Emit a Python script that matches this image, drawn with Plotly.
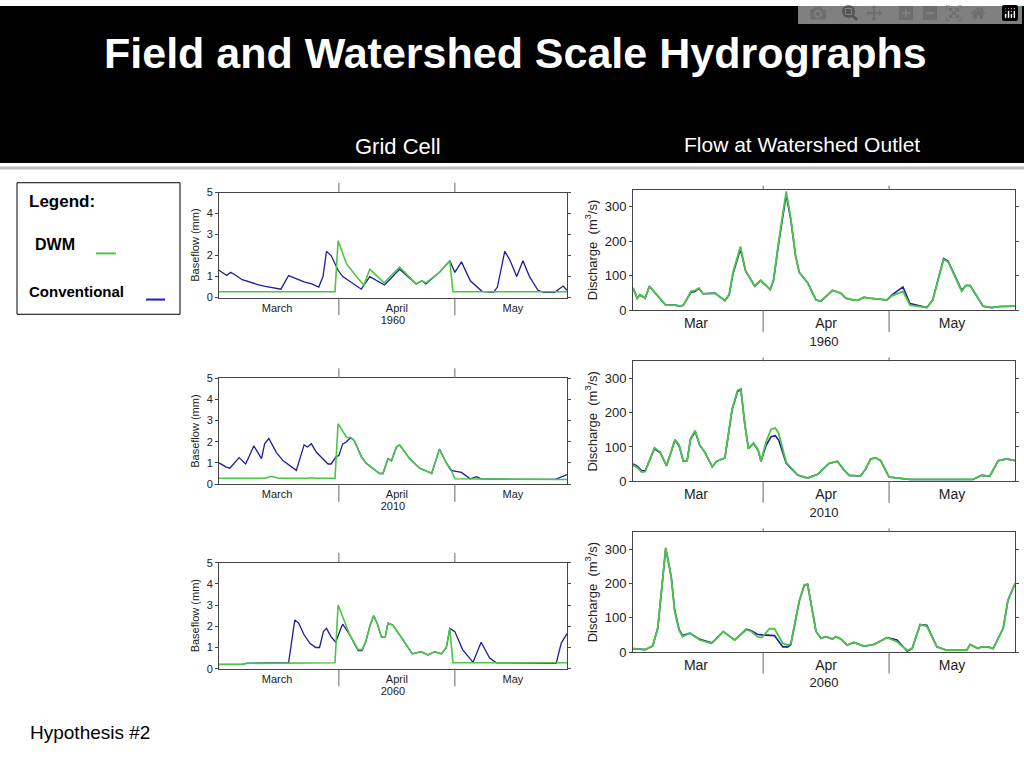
import plotly.graph_objects as go

# Days since March 1
# ---- Grid cell baseflow (mm) ----
bf1960_conv_d = [0,2,3,4,6,8,10,12,14,16,18,20,22,24,25.8,26.9,27.8,29,30.8,32,36.8,39,42.8,46.7,51,52.5,53.5,57,59.7,61,62.7,65,68,71,72,73.9,75.2,77,78.6,80.3,82.5,84,86.8,89,90]
bf1960_conv_v = [1.3,1.05,1.2,1.1,0.85,0.72,0.62,0.53,0.45,0.4,1.05,0.9,0.75,0.65,0.5,1.0,2.2,2.0,1.3,1.0,0.4,1.0,0.6,1.35,0.65,0.8,0.65,1.2,1.75,1.2,1.7,0.8,0.3,0.25,0.5,2.2,1.8,1.0,1.75,1.0,0.35,0.25,0.25,0.55,0.35]
bf1960_dwm_d = [0,29,30,30.8,33,36,37.5,39,42.7,46.7,51,52.5,53.5,57,59.7,60.5,90]
bf1960_dwm_v = [0.28,0.3,0.28,2.7,1.6,0.9,0.6,1.35,0.7,1.45,0.65,0.8,0.7,1.2,1.75,0.28,0.28]

bf2010_conv_d = [0,1.9,2.8,5.2,6.9,9,11,11.8,12.9,14.8,16.6,20,22,22.9,23.9,25.2,28.2,29,30.3,31,32,33,34,35,36.8,38,41.5,42.4,43.7,44.6,45.9,46.7,49.3,51.9,54.5,55,57,58.8,60,62.7,65,66.6,67.8,76,87,90]
bf2010_conv_v = [1.0,0.8,0.75,1.25,0.95,1.8,1.2,1.9,2.15,1.5,1.1,0.65,1.85,1.75,1.9,1.5,0.95,0.95,1.3,1.35,1.9,2.0,2.2,2.05,1.3,1.0,0.5,0.5,1.2,1.1,1.75,1.85,1.2,0.75,0.55,0.5,1.65,1.0,0.65,0.55,0.25,0.35,0.25,0.22,0.22,0.45]
bf2010_dwm_d = [0,12,13.5,15.5,23,24,25,30,30.8,33,34,35,36.8,38,41.5,42.4,43.7,44.6,45.9,46.7,49.3,51.9,54.5,55,57,58.8,60,61,90]
bf2010_dwm_v = [0.28,0.28,0.37,0.28,0.28,0.3,0.28,0.28,2.85,2.2,2.2,2.05,1.3,1.0,0.5,0.5,1.2,1.1,1.75,1.85,1.2,0.75,0.55,0.5,1.65,1.0,0.7,0.25,0.22]

bf2060_conv_d = [0,6,7,18,19.6,20.6,22,23.5,25,26,27,27.8,29,30.2,31.5,32,33.8,36,37,38,39,40,41,42,43,43.7,45,46.7,50,52.3,54,55.8,57.5,58.8,59.7,61,63,65.7,67.8,70,71.7,87.2,88.5,90]
bf2060_conv_v = [0.2,0.2,0.25,0.28,2.3,2.15,1.6,1.2,1.0,1.0,1.75,1.9,1.5,1.25,1.9,2.1,1.6,0.85,0.85,1.3,2.0,2.5,2.1,1.5,1.5,2.15,2.05,1.6,0.7,0.8,0.65,0.8,0.7,1.0,1.9,1.75,0.9,0.3,1.25,0.5,0.28,0.25,1.2,1.65]
bf2060_dwm_d = [0,6,7,30,30.8,33.8,36,37,38,39,40,41,42,43,43.7,45,46.7,50,52.3,54,55.8,57.5,58.8,59.7,60.5,90]
bf2060_dwm_v = [0.2,0.2,0.25,0.28,3.0,1.6,0.9,0.9,1.3,2.0,2.5,2.1,1.5,1.5,2.15,2.05,1.6,0.7,0.8,0.65,0.8,0.7,1.0,1.9,0.28,0.28]

# ---- Watershed outlet discharge (m3/s) ----
q1960_d = [0,1,1.7,2.9,3.9,5.3,7.8,10,11.2,12,13.8,14.8,15.7,16.7,19.5,21.9,22.9,23.8,25.6,26.8,29,30.4,32.7,33.5,34.7,36.5,37.6,38.7,39.6,41.6,43.6,44.8,47.5,49.5,50.7,52.6,53.8,55,56.6,60.5,61.7,64.3,66,70,71.4,74,75.1,78.3,79.3,80.3,83.4,85.4,87.4,91]
q1960_dwm = [65,35,45,35,70,50,15,15,12,15,55,58,65,48,50,28,45,110,185,115,70,88,60,90,200,345,265,160,110,80,30,27,58,50,35,30,30,38,35,30,42,55,15,8,30,148,140,55,72,72,12,8,11,12]
q1960_conv = [65,35,45,35,70,50,15,15,12,15,52,55,63,48,50,28,45,105,178,115,70,86,60,88,195,335,262,160,110,80,30,27,58,50,35,30,30,38,35,30,45,68,20,8,30,150,142,58,72,72,12,8,11,12]

q2010_d = [0,1,2.1,2.9,5.1,6.5,8,10,11,12,12.9,13.7,14.8,15.9,17.1,18.9,19.9,21.9,23.6,24.9,25.7,26.6,27.5,28.7,29.8,30.5,31.7,32.9,33.9,34.7,36.5,39.2,41.6,44,46.7,48.7,50.3,51.5,54.2,55.4,56.6,57.8,59,61,66,81,83,85,87,88.2,89,91]
q2010_dwm = [47,40,27,28,98,85,45,122,105,58,60,125,148,105,85,42,58,68,210,265,270,170,95,112,92,58,115,152,155,140,55,18,9,20,52,58,32,17,15,35,65,68,60,12,5,5,17,15,60,62,65,60]
q2010_conv = [50,44,30,30,95,83,45,120,103,58,60,122,145,105,85,42,58,68,208,262,268,170,95,110,90,58,105,130,133,120,52,18,9,20,52,58,32,17,15,35,65,68,60,12,5,5,17,15,60,62,65,60]

q2060_d = [0,2.9,4.7,5.9,7.8,9.1,9.9,11,11.8,13.6,15.9,18.7,19.5,21.5,24.2,27,28.2,29.6,30.7,32.5,33.7,35.7,36.9,37.6,39.6,40.8,41.6,43.6,44.8,45.9,47.5,48.3,49.5,51,52.6,55,57.4,60.5,62.9,65.3,66.5,68.4,70,72.4,74.7,79.5,80.3,82.2,83,84.6,85.8,88.2,89.3,91]
q2060_dwm = [10,7,18,70,305,220,120,62,45,55,35,25,35,60,35,65,60,45,42,68,68,25,20,25,150,197,197,60,40,45,38,45,38,20,28,17,22,42,30,5,10,80,75,15,5,5,22,10,15,15,10,70,150,200]
q2060_conv = [10,7,18,70,303,220,125,65,48,55,37,27,35,60,35,67,62,52,50,50,48,15,15,22,148,195,198,60,40,45,38,45,38,20,28,17,22,42,35,3,10,80,78,15,5,5,22,10,15,15,10,70,150,200]

years = ["1960", "2010", "2060"]
BLUE = "#1c1c9e"
GREEN = "#4cc444"
FONT = "Liberation Sans, Arial, sans-serif"

W, H = 1024, 768
def px(x): return x / W
def py(y): return 1 - y / H

fig = go.Figure()

left = [(bf1960_conv_d, bf1960_conv_v, bf1960_dwm_d, bf1960_dwm_v),
        (bf2010_conv_d, bf2010_conv_v, bf2010_dwm_d, bf2010_dwm_v),
        (bf2060_conv_d, bf2060_conv_v, bf2060_dwm_d, bf2060_dwm_v)]
right = [(q1960_d, q1960_conv, q1960_dwm), (q2010_d, q2010_conv, q2010_dwm), (q2060_d, q2060_conv, q2060_dwm)]
left_rows = [(190, 297), (379, 487), (567, 675)]
right_rows = [(187, 310), (362, 484), (536, 658)]

shapes = []
annotations = []
axn = 1
for i in range(3):
    xa, ya = f"x{axn}", f"y{axn}"
    cd, cv, dd, dv = left[i]
    fig.add_trace(go.Scatter(x=cd, y=cv, mode="lines", line=dict(color=BLUE, width=1.3), xaxis=xa, yaxis=ya, showlegend=False))
    fig.add_trace(go.Scatter(x=dd, y=dv, mode="lines", line=dict(color=GREEN, width=1.6), xaxis=xa, yaxis=ya, showlegend=False))
    t, b = left_rows[i]
    fig.layout[f"xaxis{axn}" if axn > 1 else "xaxis"] = dict(
        domain=[px(219), px(567)], anchor=ya, range=[0, 90], tickvals=[15, 46, 76],
        ticktext=["March", "April", "May"], ticks="", showgrid=False, zeroline=False,
        showline=True, linecolor="#444", mirror=True, tickfont=dict(size=11, family=FONT, color="#222"),
        title=dict(text=years[i], font=dict(size=11, family=FONT, color="#222"), standoff=2))
    fig.layout[f"yaxis{axn}" if axn > 1 else "yaxis"] = dict(
        domain=[py(b), py(t)], anchor=xa, range=[0, 5], dtick=1, ticks="outside", ticklen=3,
        showgrid=False, zeroline=False, showline=True, linecolor="#444", mirror="ticks",
        tickfont=dict(size=11, family=FONT, color="#222"),
        title=dict(text="Baseflow (mm)", font=dict(size=11, family=FONT, color="#222"), standoff=4))
    for bd in [31, 61]:
        shapes.append(dict(type="line", xref=xa, yref="paper", x0=bd, x1=bd, y0=py(b + 18), y1=py(b), line=dict(color="#666", width=1)))
        shapes.append(dict(type="line", xref=xa, yref="paper", x0=bd, x1=bd, y0=py(t), y1=py(t - 10), line=dict(color="#666", width=1)))
    axn += 1
    xa, ya = f"x{axn}", f"y{axn}"
    d, cq, dq = right[i]
    fig.add_trace(go.Scatter(x=d, y=cq, mode="lines", line=dict(color=BLUE, width=1.6), xaxis=xa, yaxis=ya, showlegend=False))
    fig.add_trace(go.Scatter(x=d, y=dq, mode="lines", line=dict(color=GREEN, width=1.8), xaxis=xa, yaxis=ya, showlegend=False))
    t, b = right_rows[i]
    fig.layout[f"xaxis{axn}"] = dict(
        domain=[px(633), px(1015)], anchor=ya, range=[0, 91], tickvals=[15, 46, 76],
        ticktext=["Mar", "Apr", "May"], ticks="", showgrid=False, zeroline=False,
        showline=True, linecolor="#444", mirror=True, tickfont=dict(size=14, family=FONT, color="#222"),
        title=dict(text=years[i], font=dict(size=13, family=FONT, color="#222"), standoff=6))
    fig.layout[f"yaxis{axn}"] = dict(
        domain=[py(b), py(t)], anchor=xa, range=[0, 350], tickvals=[0, 100, 200, 300], ticks="outside", ticklen=3,
        showgrid=False, zeroline=False, showline=True, linecolor="#444", mirror="ticks",
        tickfont=dict(size=13, family=FONT, color="#222"),
        title=dict(text="Discharge  (m<sup>3</sup>/s)", font=dict(size=13, family=FONT, color="#222"), standoff=4))
    for bd in [31, 61]:
        shapes.append(dict(type="line", xref=xa, yref="paper", x0=bd, x1=bd, y0=py(b + 22), y1=py(b), line=dict(color="#666", width=1)))
        shapes.append(dict(type="line", xref=xa, yref="paper", x0=bd, x1=bd, y0=py(t), y1=py(t - 4), line=dict(color="#666", width=1)))
    axn += 1

shapes.insert(0, dict(type="rect", xref="paper", yref="paper", x0=0, x1=1, y0=py(160), y1=1, fillcolor="black", line=dict(width=0), layer="below"))
shapes.append(dict(type="line", xref="paper", yref="paper", x0=0, x1=1, y0=py(165), y1=py(165), line=dict(color="#bbb", width=3)))
shapes.append(dict(type="rect", xref="paper", yref="paper", x0=px(17), x1=px(180), y0=py(314), y1=py(180), line=dict(color="black", width=1), fillcolor="white"))
# legend swatches
shapes.append(dict(type="line", xref="paper", yref="paper", x0=px(96), x1=px(116), y0=py(252), y1=py(252), line=dict(color=GREEN, width=2)))
shapes.append(dict(type="line", xref="paper", yref="paper", x0=px(146), x1=px(165), y0=py(299), y1=py(299), line=dict(color="#1c1cc8", width=2)))

def ann(x, y, text, size, color="black", bold=False, xanchor="center"):
    annotations.append(dict(x=px(x), y=py(y), xref="paper", yref="paper", text=f"<b>{text}</b>" if bold else text,
                            showarrow=False, xanchor=xanchor, yanchor="middle", font=dict(size=size, color=color, family=FONT)))

ann(515, 48, "Field and Watershed Scale Hydrographs", 43, "white", True)
ann(398, 143, "Grid Cell", 22, "white")
ann(802, 141, "Flow at Watershed Outlet", 21, "white")
ann(27, 199, "Legend:", 17, bold=True, xanchor="left")
ann(33, 243, "DWM", 16, bold=True, xanchor="left")
ann(27, 291, "Conventional", 15, bold=True, xanchor="left")
ann(28, 740, "Hypothesis #2", 19, xanchor="left")

fig.update_layout(width=W, height=H, margin=dict(l=0, r=0, t=0, b=0), paper_bgcolor="white",
                  plot_bgcolor="white", shapes=shapes, annotations=annotations)
fig.write_html("out.html")

# remove default page margin so the figure fills the window exactly
with open("out.html", encoding="utf-8") as f:
    html = f.read()
html = html.replace("<head>", "<head><style>html,body{margin:0;padding:0;overflow:hidden}</style>", 1)
with open("out.html", "w", encoding="utf-8") as f:
    f.write(html)
